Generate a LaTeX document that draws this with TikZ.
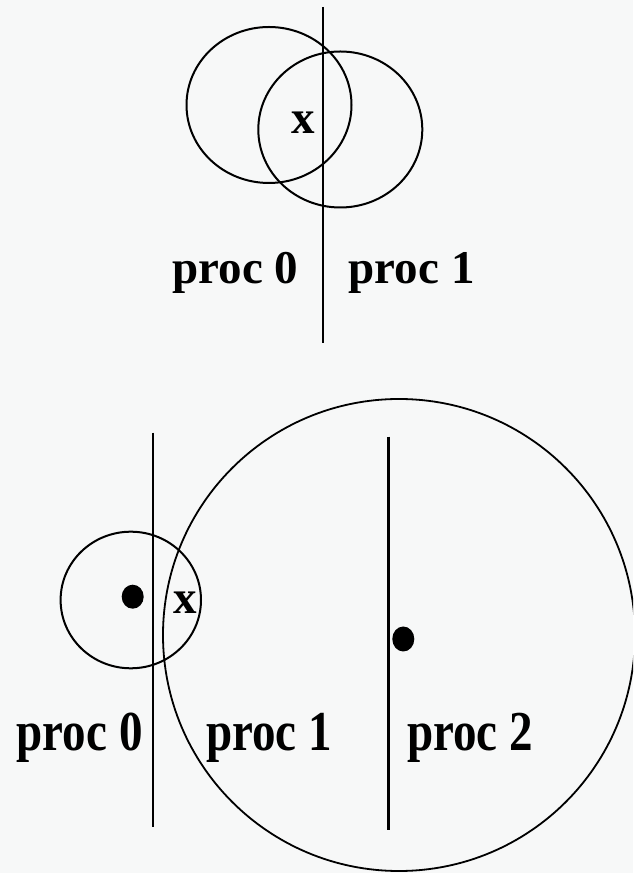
\documentclass[tikz,border=0pt]{standalone}
\usepackage{fontspec}
\setmainfont{Liberation Serif}
\definecolor{bgpaper}{RGB}{247,248,248}
\begin{document}
\begin{tikzpicture}[x=1pt,y=1pt, line width=2pt,
  lbl/.style={inner sep=0pt, anchor=base, font=\fontsize{47}{50}\selectfont\bfseries},
  divider/.style={line width=2.2pt},
  ring/.style={line width=2pt},
  bigring/.style={line width=1.8pt},
  dotmark/.style={fill=black, draw=none}]
\useasboundingbox (0,0) rectangle (633,873);
\fill[bgpaper] (0,0) rectangle (633,873);
\clip (0,0) rectangle (633,873);
% ---------- top figure ----------
\draw[ring] (269,768) ellipse [x radius=82.5, y radius=78];
\draw[ring] (340.3,743.5) ellipse [x radius=82, y radius=78];
\coordinate (ta) at (322.7,866);
\coordinate (tb) at (322.7,530);
\draw[divider] (ta) -- (tb);
\node[lbl] (xa) at (303,739.7) {x};
\node[lbl] (p0a) at (235.5,589.7) {proc 0};
\node[lbl] (p1a) at (411.7,589.7) {proc 1};
% ---------- bottom figure ----------
\draw[ring] (130.8,273) ellipse [x radius=70.2, y radius=68.3];
\draw[bigring] (399,238) circle [radius=236];
\coordinate (ba) at (153.3,440.3);
\coordinate (bb) at (153.3,46);
\coordinate (bc) at (388.5,436.3);
\coordinate (bd) at (388.5,43);
\draw[divider] (ba) -- (bb);
\draw[divider] (bc) -- (bd);
\fill[dotmark] (132.7,276.3) ellipse [x radius=11, y radius=12];
\fill[dotmark] (403.3,234) ellipse [x radius=11, y radius=12.5];
\node[lbl] (xb) at (185.7,259) {x};
\node[lbl] (p0b) at (79.7,122) {\scalebox{1}[1.2]{proc 0}};
\node[lbl] (p1b) at (268.9,122) {\scalebox{1}[1.2]{proc 1}};
\node[lbl] (p2b) at (470,122) {\scalebox{1}[1.2]{proc 2}};
\end{tikzpicture}
\end{document}
